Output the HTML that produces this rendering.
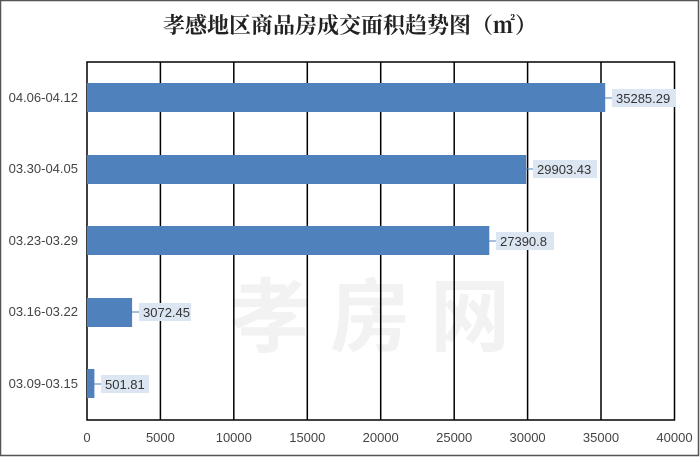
<!DOCTYPE html>
<html><head><meta charset="utf-8"><style>body{margin:0;background:#fff}</style></head><body>
<svg width="700" height="457" xmlns="http://www.w3.org/2000/svg" font-family="Liberation Sans, Noto Sans CJK SC, sans-serif">
<rect x="0.5" y="0.5" width="698" height="455" fill="#fff" stroke="#555" stroke-width="1.5"/>
<text x="350" y="33" text-anchor="middle" font-size="22" font-weight="bold" font-family="Noto Serif CJK SC, serif" fill="#222">孝感地区商品房成交面积趋势图（㎡）</text>
<text x="380" y="345" text-anchor="middle" font-size="80" font-weight="bold" fill="#f2f2f2" font-family="Noto Sans CJK SC, sans-serif" letter-spacing="20">孝房网</text>
<g stroke="#000" stroke-width="1.5">
<line x1="160.4" y1="62" x2="160.4" y2="420"/><line x1="233.8" y1="62" x2="233.8" y2="420"/>
<line x1="307.3" y1="62" x2="307.3" y2="420"/><line x1="380.7" y1="62" x2="380.7" y2="420"/>
<line x1="454.2" y1="62" x2="454.2" y2="420"/><line x1="527.6" y1="62" x2="527.6" y2="420"/>
<line x1="601" y1="62" x2="601" y2="420"/>
<rect x="87" y="62" width="587.5" height="358" fill="none"/>
</g>
<g fill="#4f81bd">
<rect x="87" y="83" width="518.2" height="29"/>
<rect x="87" y="155" width="439.2" height="29"/>
<rect x="87" y="226" width="402.3" height="29"/>
<rect x="87" y="298" width="45.1" height="29"/>
<rect x="87" y="369" width="7.4" height="29"/>
</g>
<g stroke="#4f81bd" stroke-width="1"><line x1="605" y1="98" x2="612" y2="98"/><line x1="526" y1="169" x2="533" y2="169"/><line x1="489" y1="241" x2="496" y2="241"/><line x1="132" y1="312" x2="139" y2="312"/><line x1="94" y1="384" x2="101" y2="384"/></g>
<g fill="#dce6f2">
<rect x="612" y="89" width="64" height="18"/><rect x="533" y="160" width="64" height="18"/><rect x="496" y="232" width="58" height="18"/><rect x="139" y="303" width="52" height="18"/><rect x="101" y="375" width="48" height="18"/>
</g>
<g font-size="13" fill="#333">
<text x="616" y="103">35285.29</text><text x="537" y="174">29903.43</text><text x="500" y="246">27390.8</text><text x="143" y="317">3072.45</text><text x="105" y="389">501.81</text>
</g>
<g font-size="13" fill="#444" text-anchor="end">
<text x="78" y="102">04.06-04.12</text><text x="78" y="173">03.30-04.05</text><text x="78" y="245">03.23-03.29</text><text x="78" y="316">03.16-03.22</text><text x="78" y="388">03.09-03.15</text>
</g>
<g font-size="13" fill="#444" text-anchor="middle">
<text x="87" y="442">0</text><text x="160.4" y="442">5000</text><text x="233.8" y="442">10000</text><text x="307.3" y="442">15000</text><text x="380.7" y="442">20000</text><text x="454.2" y="442">25000</text><text x="527.6" y="442">30000</text><text x="601" y="442">35000</text><text x="674.5" y="442">40000</text>
</g>
</svg>
</body></html>
